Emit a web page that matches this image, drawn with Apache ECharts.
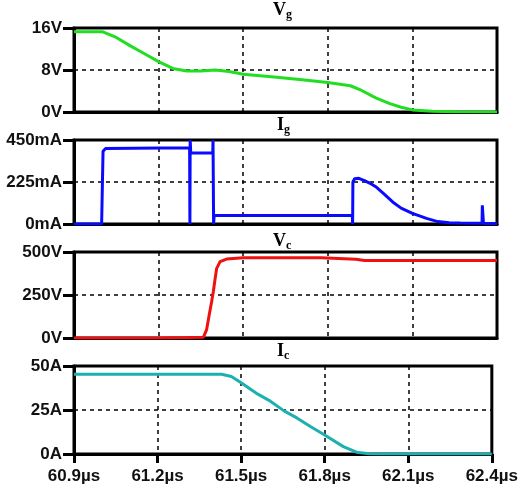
<!DOCTYPE html>
<html>
<head>
<meta charset="utf-8">
<script src="https://cdn.jsdelivr.net/npm/echarts@6/dist/echarts.min.js"></script>
<style>
  html, body { margin: 0; padding: 0; background: #fff; }
  #chart { width: 521px; height: 491px; }
</style>
</head>
<body>
<div id="chart"></div>
<script>
// time axis, µs
const xTicks = [60.9, 61.2, 61.5, 61.8, 62.1, 62.4]

// gate voltage
const vgT = [60.9, 61.0, 61.05, 61.1, 61.15, 61.2, 61.25, 61.3, 61.35, 61.4, 61.45, 61.5, 61.6, 61.7, 61.8, 61.88, 61.92, 61.97, 62.02, 62.06, 62.1, 62.17, 62.25, 62.4]
const vgV = [15.3, 15.3, 14.2, 12.6, 11.1, 9.6, 8.3, 7.8, 7.8, 8.0, 7.7, 7.2, 6.7, 6.2, 5.6, 5.0, 4.1, 2.7, 1.6, 0.9, 0.4, 0.15, 0.05, 0]

// gate current
const igT = [60.9, 60.998, 61.003, 61.012, 61.31, 61.311, 61.312, 61.314, 61.316, 61.392, 61.393, 61.395, 61.397, 61.887, 61.888, 61.889, 61.895, 61.91, 61.93, 61.95, 61.97, 62.0, 62.03, 62.06, 62.1, 62.15, 62.19, 62.23, 62.27, 62.347, 62.348, 62.351, 62.352, 62.4]
const igV = [0, 0, 390, 405, 408, 0, 450, 380, 380, 380, 450, 0, 45, 45, 0, 225, 242, 245, 232, 218, 200, 160, 118, 85, 57, 30, 13, 7, 5, 4, 100, 100, 3, 3]

// collector voltage
const vcT = [60.9, 61.2, 61.3, 61.359, 61.37, 61.38, 61.388, 61.394, 61.4, 61.406, 61.418, 61.441, 61.5, 61.6, 61.7, 61.776, 61.778, 61.9, 61.902, 61.93, 62.1, 62.4]
const vcV = [0, 0, 3, 5, 47, 140, 211, 269, 340, 405, 444, 459, 467, 467, 466, 466, 458, 458, 465, 451, 451, 451]

// collector current
const icT = [60.9, 61.43, 61.465, 61.5, 61.56, 61.6, 61.654, 61.7, 61.75, 61.8, 61.867, 61.914, 61.96, 62.0, 62.4]
const icV = [45.3, 45.3, 44, 40.5, 34, 30.5, 24.5, 20.5, 15.5, 10.8, 4.2, 1.0, 0.1, 0, 0]

const panels = [
  { name: 'V', sub: 'g', t: vgT, v: vgV, max: 16, step: 8, unit: 'V', color: '#22dd22', top: 28, height: 84, titleTop: 1 },
  { name: 'I', sub: 'g', t: igT, v: igV, max: 450, step: 225, unit: 'mA', color: '#0a0aff', top: 140, height: 84, titleTop: 116 },
  { name: 'V', sub: 'c', t: vcT, v: vcV, max: 500, step: 250, unit: 'V', color: '#f01010', top: 252, height: 86, titleTop: 232 },
  { name: 'I', sub: 'c', t: icT, v: icV, max: 50, step: 25, unit: 'A', color: '#1cb0b0', top: 366, height: 88, titleTop: 342 },
]

const dashed = { show: true, lineStyle: { color: '#000', width: 1.5, type: [4, 4] } }
const labelFont = { color: '#111', fontSize: 17, fontWeight: 'bold', fontFamily: 'Liberation Sans, Arial, sans-serif' }

const chart = echarts.init(document.getElementById('chart'))
chart.setOption({
  animation: false,
  backgroundColor: '#fff',
  title: panels.map(p => ({
    text: '{a|' + p.name + '}{b|' + p.sub + '}',
    left: p.name === 'V' ? 273 : 277,
    top: p.titleTop,
    padding: 0,
    textStyle: {
      rich: {
        a: { fontSize: 18, fontWeight: 'bold', fontFamily: 'Liberation Serif, Times New Roman, serif', color: '#000', lineHeight: 20, verticalAlign: 'top' },
        b: { fontSize: 12, fontWeight: 'bold', fontFamily: 'Liberation Serif, Times New Roman, serif', color: '#000', lineHeight: 4, verticalAlign: 'bottom' },
      },
    },
  })),
  grid: panels.map(p => ({
    left: 74, right: 24, top: p.top, height: p.height,
    show: true, borderColor: '#000', borderWidth: 3,
  })),
  xAxis: panels.map((p, i) => ({
    type: 'value', gridIndex: i,
    min: xTicks[0], max: xTicks[xTicks.length - 1], interval: 0.3,
    axisLine: { show: true, lineStyle: { color: '#000', width: 3 } },
    axisTick: { show: i === 3, length: 9, lineStyle: { color: '#000', width: 3 } },
    axisLabel: { show: i === 3, margin: 14, ...labelFont, formatter: v => v.toFixed(1) + 'µs' },
    splitLine: dashed,
  })),
  yAxis: panels.map((p, i) => ({
    type: 'value', gridIndex: i,
    min: 0, max: p.max, interval: p.step,
    axisLine: { show: true, lineStyle: { color: '#000', width: 3 } },
    axisTick: { show: true, length: 11, lineStyle: { color: '#000', width: 3 } },
    axisLabel: { margin: 12, ...labelFont, formatter: v => v + p.unit },
    splitLine: dashed,
  })),
  series: panels.map((p, i) => ({
    type: 'line', xAxisIndex: i, yAxisIndex: i,
    showSymbol: false, symbol: 'none',
    data: p.t.map((t, k) => [t, p.v[k]]),
    lineStyle: { color: p.color, width: 3 },
    itemStyle: { color: p.color },
  })),
})
</script>
</body>
</html>
